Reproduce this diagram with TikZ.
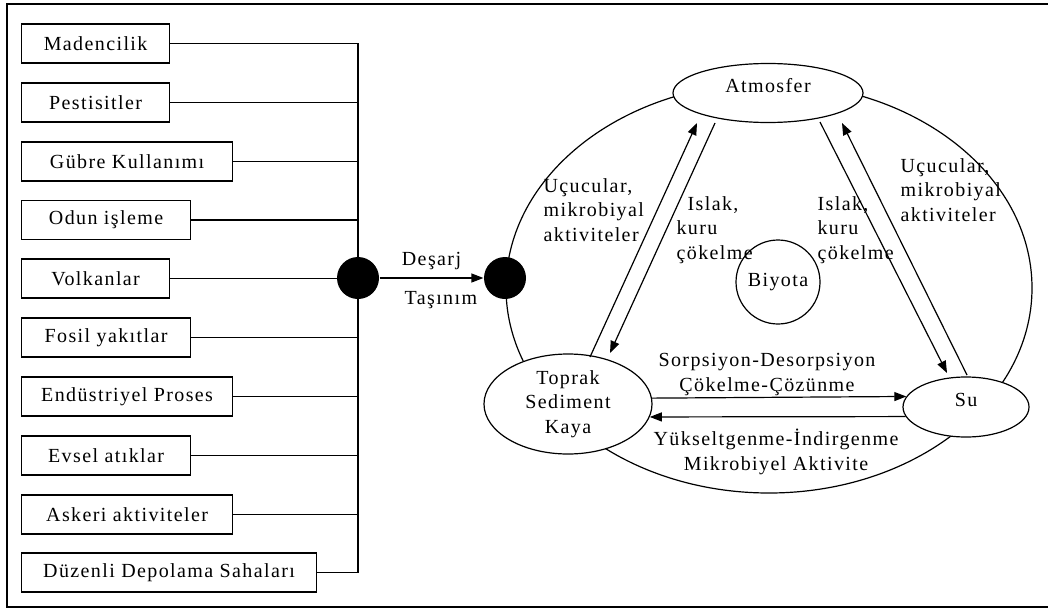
\documentclass[tikz,border=0pt]{standalone}
\usepackage{fontspec}
\setmainfont{Liberation Serif}[LetterSpace=7]
\usetikzlibrary{arrows.meta,shapes.geometric}
\begin{document}
\begin{tikzpicture}[x=1pt,y=-1pt,line width=1.2pt,
  every node/.style={font=\fontsize{20}{24.5}\selectfont, inner sep=0pt},
  srcbox/.style={draw, rectangle, minimum height=39pt, anchor=west, fill=white},
  blackdot/.style={circle, fill=black, minimum size=42pt},
  comp/.style={draw, ellipse, fill=white},
  arr/.style={-{Triangle[length=12pt,width=9pt]}},
  lbl/.style={align=left, anchor=west}]
\useasboundingbox (0,0) rectangle (1048,610);
\clip (0,0) rectangle (1048,610);
\draw[line width=2pt] (7,4) rectangle (1060,607);

% source boxes
\node[srcbox, minimum width=148pt] (b1) at (21,43.5) {Madencilik};
\node[srcbox, minimum width=148pt] (b2) at (21,102.5) {Pestisitler};
\node[srcbox, minimum width=211pt] (b3) at (21,161.5) {Gübre Kullanımı};
\node[srcbox, minimum width=169pt] (b4) at (21,220) {Odun işleme};
\node[srcbox, minimum width=148pt] (b5) at (21,278.5) {Volkanlar};
\node[srcbox, minimum width=169pt] (b6) at (21,337.5) {Fosil yakıtlar};
\node[srcbox, minimum width=211pt] (b7) at (21,396.5) {Endüstriyel Proses};
\node[srcbox, minimum width=169pt] (b8) at (21,455.5) {Evsel atıklar};
\node[srcbox, minimum width=211pt] (b9) at (21,514.5) {Askeri aktiviteler};
\node[srcbox, minimum width=295pt] (b10) at (21,572.5) {Düzenli Depolama Sahaları};

\coordinate (bus) at (358,278);
\draw (b1.east) -- (b1.east -| bus) -- (b10.east -| bus) -- (b10.east);
\foreach \i in {2,...,9} { \draw (b\i.east) -- (b\i.east -| bus); }
\node[blackdot] (d1) at (bus) {};

% big cycle
\draw (769,288) ellipse [x radius=263pt, y radius=205pt];
\node[blackdot] (d2) at (505,278) {};
\draw[arr] (d1) -- (d2)
  node[pos=0.5, yshift=17pt] (des) {Deşarj}
  node[pos=0.59, yshift=-22pt] (tas) {Taşınım};

\node[comp, minimum width=190pt, minimum height=59pt, text depth=15pt] (atm) at (768,93) {Atmosfer};
\node[comp, minimum width=168pt, minimum height=100pt, align=center] (tp) at (568,404) {Toprak\\Sediment\\Kaya};
\node[comp, minimum width=126pt, minimum height=60pt, text depth=14pt] (su) at (966,407) {Su};
\node[draw, circle, minimum size=84pt] (bio) at (778,282) {Biyota};

% diagonal exchanges
\coordinate (la1) at (590,357); \coordinate (la2) at (697,123);
\coordinate (lb1) at (715,123); \coordinate (lb2) at (610,353);
\coordinate (ra1) at (820,122); \coordinate (ra2) at (947,373);
\coordinate (rb1) at (967,375); \coordinate (rb2) at (842,123);
\draw[arr] (la1) -- (la2);
\draw[arr] (lb1) -- (lb2);
\draw[arr] (ra1) -- (ra2);
\draw[arr] (rb1) -- (rb2);

% horizontal exchanges
\draw[arr] (tp.4.1) -- (su.170.4);
\draw[arr] (su.189.6) -- (tp.-9.9);

% labels
\node[lbl] (l1) at (543,210) {Uçucular,\\mikrobiyal\\aktiviteler};
\node[lbl] (l2) at (676,230) {\hspace*{11pt}Islak,\\kuru\\çökelme};
\node[lbl] (l3) at (817,230) {Islak,\\kuru\\çökelme};
\node[lbl] (l4) at (900,190) {Uçucular,\\mikrobiyal\\aktiviteler};
\node[align=center] (l5) at (767,374.5) {Sorpsiyon-Desorpsiyon\\Çökelme-Çözünme};
\node[align=center] (l6) at (776,452) {Yükseltgenme-İndirgenme\\Mikrobiyel Aktivite};
\end{tikzpicture}
\end{document}
